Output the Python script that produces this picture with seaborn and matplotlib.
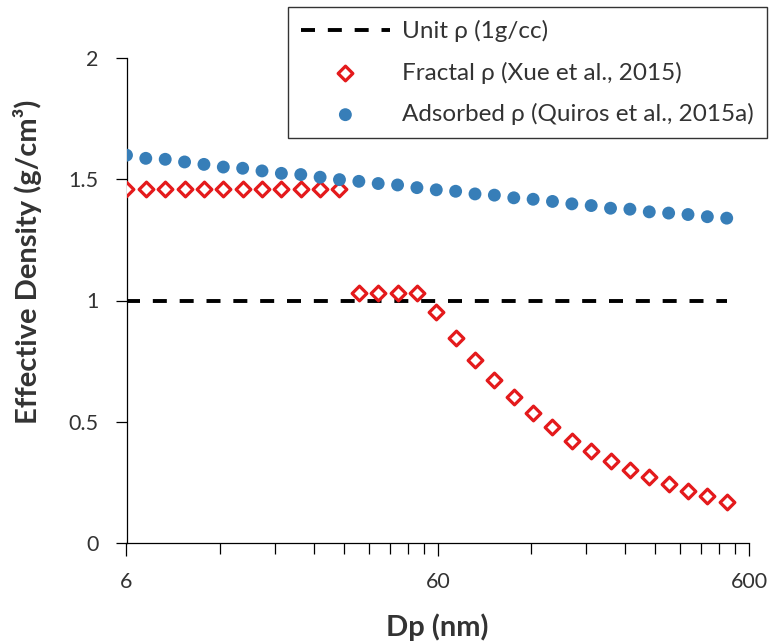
import matplotlib
matplotlib.use("Agg")
import matplotlib.pyplot as plt
import pandas as pd
import seaborn as sns

# Mobility diameter bins (nm)
dp_nm = [6.00, 6.92, 7.99, 9.22, 10.64, 12.28, 14.17, 16.35, 18.87, 21.78,
         25.13, 29.00, 33.47, 38.62, 44.57, 51.43, 59.35, 68.49, 79.04, 91.21,
         105.3, 121.5, 140.2, 161.8, 186.7, 215.4, 248.6, 286.9, 331.1, 382.1,
         440.9, 508.8]

# Effective density (g/cm3)
unit_rho = [1.0] * len(dp_nm)
fractal_rho = [1.46, 1.46, 1.46, 1.46, 1.46, 1.46, 1.46, 1.46, 1.46, 1.46,
               1.46, 1.46, 1.03, 1.03, 1.03, 1.03, 0.951, 0.845, 0.756, 0.671,
               0.602, 0.534, 0.477, 0.421, 0.380, 0.337, 0.300, 0.270, 0.242,
               0.213, 0.191, 0.169]
adsorbed_rho = [1.600, 1.587, 1.583, 1.572, 1.562, 1.551, 1.546, 1.535, 1.525,
                1.520, 1.509, 1.499, 1.492, 1.483, 1.477, 1.466, 1.457, 1.451,
                1.440, 1.435, 1.424, 1.418, 1.409, 1.399, 1.392, 1.381, 1.377,
                1.366, 1.361, 1.355, 1.346, 1.340]

series_labels = ["Unit \u03c1 (1g/cc)",
                 "Fractal \u03c1 (Xue et al., 2015)",
                 "Adsorbed \u03c1 (Quiros et al., 2015a)"]

x_major = [6, 60, 600]
x_major_labels = ["6", "60", "600"]
x_minor = [12, 18, 24, 30, 36, 42, 48, 54, 120, 180, 240, 300, 360, 420, 480, 540]
y_ticks = [0, 0.5, 1, 1.5, 2]
y_tick_labels = ["0", "0.5", "1", "1.5", "2"]

df = pd.DataFrame({"dp": dp_nm, "unit": unit_rho,
                   "fractal": fractal_rho, "adsorbed": adsorbed_rho})

sns.set_theme(style="ticks")
plt.rcParams["font.family"] = ["Lato", "Noto Sans", "DejaVu Sans"]
text_color = "#333333"

fig = plt.figure(figsize=(7.7, 6.44), dpi=100)
W, H = 770, 644
ax = fig.add_axes([126.5 / W, 1 - 542.7 / H, 622.5 / W, 484.4 / H])

sns.lineplot(data=df, x="dp", y="unit", ax=ax, color="black", lw=2.8,
             linestyle=(0, (3.6, 3.3)), label=series_labels[0], zorder=2)
sns.scatterplot(data=df, x="dp", y="fractal", ax=ax, marker="D", s=56,
                facecolor="white", edgecolor="#E41A1C", linewidth=2.3,
                label=series_labels[1], zorder=3)
sns.scatterplot(data=df, x="dp", y="adsorbed", ax=ax, marker="o", s=86,
                color="#377EB8", edgecolor="none", linewidth=0,
                label=series_labels[2], zorder=3)

ax.set_xscale("log")
ax.set_xlim(6, 600)
ax.set_ylim(0, 2)
ax.set_xticks(x_major)
ax.set_xticklabels(x_major_labels)
ax.set_xticks(x_minor, minor=True)
ax.set_xticklabels([], minor=True)
ax.set_yticks(y_ticks)
ax.set_yticklabels(y_tick_labels)

for side in ("top", "right"):
    ax.spines[side].set_visible(False)
for side in ("left", "bottom"):
    ax.spines[side].set_color("black")
    ax.spines[side].set_linewidth(0.9)

ax.tick_params(axis="both", which="both", direction="out", color="black",
               width=0.9, labelcolor=text_color, labelsize=15.5,
               bottom=True, left=True)
ax.tick_params(axis="y", which="major", length=8, pad=12)
ax.tick_params(axis="x", which="major", length=9, pad=12)
ax.tick_params(axis="x", which="minor", length=8)

ax.set_xlabel("Dp (nm)", fontsize=21, fontweight="bold", color=text_color,
              va="top")
ax.xaxis.set_label_coords(0.5, -0.145)
ax.set_ylabel("Effective Density (g/cm\u00b3)", fontsize=21,
              fontweight="bold", color=text_color)
ax.yaxis.set_label_coords(-0.135, 0.58)

ax.legend(loc="upper right", bbox_to_anchor=(767 / W, 1 - 7 / H),
          bbox_transform=fig.transFigure, borderaxespad=0, fontsize=17.5,
          frameon=True, fancybox=False, framealpha=1, edgecolor="#333333",
          borderpad=0.55, labelspacing=0.79, handlelength=3.65,
          handletextpad=0.5, labelcolor=text_color)
ax.get_legend().get_frame().set_linewidth(1.0)

fig.savefig("out.png", dpi=100)
